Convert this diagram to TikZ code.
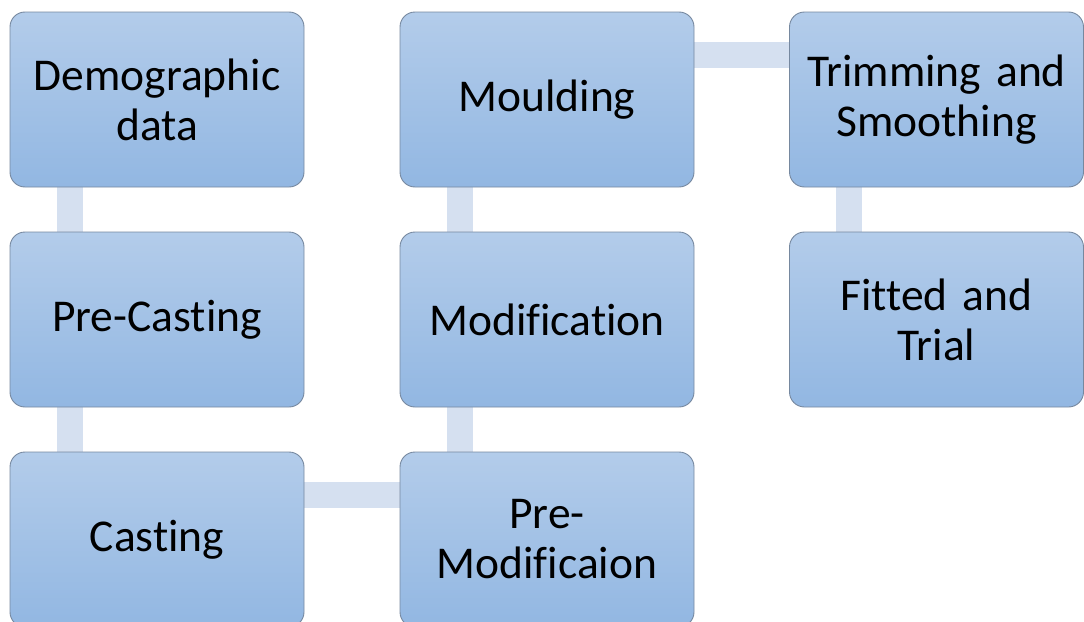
\documentclass[tikz,border=0pt]{standalone}
\usepackage{fontspec}
\setmainfont[Ligatures=NoCommon]{Carlito}
\usetikzlibrary{backgrounds}
\definecolor{boxtop}{HTML}{B3CCEA}
\definecolor{boxbot}{HTML}{92B7E2}
\definecolor{boxline}{HTML}{76889F}
\definecolor{barcol}{HTML}{D5E0F0}
\tikzset{
  stepbox/.style={rectangle, rounded corners=15pt, minimum width=294pt, minimum height=175pt,
    draw=boxline, line width=0.9pt, top color=boxtop, bottom color=boxbot,
    align=center, text width=285pt, inner sep=0pt,
    font=\fontsize{45.5pt}{50pt}\selectfont},
  barline/.style={barcol, line width=26pt}
}
\begin{document}
\begin{tikzpicture}[x=1pt,y=-1pt]
\useasboundingbox (0,0) rectangle (1084,621);
\clip (0,0) rectangle (1084,621);
\node[stepbox] (demo) at (157,99.5) {Demographic\\data};
\node[stepbox] (pcast) at (157,319.5) {Pre-Casting};
\node[stepbox] (cast) at (157,539.5) {Casting};
\node[stepbox] (pmod) at (547,539.5) {Pre-\\Modificaion};
\node[stepbox] (mod) at (547,319.5) {Modification};
\node[stepbox] (mould) at (547,99.5) {Moulding};
\node[stepbox] (trim) at (936.5,99.5) {Trimming and\\Smoothing};
\node[stepbox] (fit) at (936.5,319.5) {Fitted and\\Trial};
\begin{pgfonlayer}{background}
\draw[barline] ([xshift=60pt]demo.south west) -- ([xshift=60pt]pcast.north west);
\draw[barline] ([xshift=60pt]pcast.south west) -- ([xshift=60pt]cast.north west);
\draw[barline] ([yshift=-43pt]cast.north east) -- ([yshift=-43pt]pmod.north west);
\draw[barline] ([xshift=60pt]pmod.north west) -- ([xshift=60pt]mod.south west);
\draw[barline] ([xshift=60pt]mod.north west) -- ([xshift=60pt]mould.south west);
\draw[barline] ([yshift=-43pt]mould.north east) -- ([yshift=-43pt]trim.north west);
\draw[barline] ([xshift=60pt]trim.south west) -- ([xshift=60pt]fit.north west);
\end{pgfonlayer}
\end{tikzpicture}
\end{document}
